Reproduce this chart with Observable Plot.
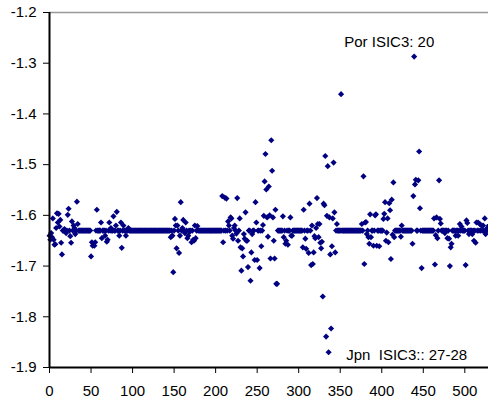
<!DOCTYPE html>
<html><head><meta charset="utf-8">
<script src="https://cdn.jsdelivr.net/npm/d3@7"></script>
<script src="https://cdn.jsdelivr.net/npm/@observablehq/plot@0.6"></script>
<style>
body{margin:0;background:#fff}
svg text{white-space:pre}
</style>
</head><body><div id="chart"></div>
<script>
// y value for each observation (x = observation number 0..529)
const values = [
-1.64,-1.648,-1.635,-1.643,-1.606,-1.648,-1.658,-1.657,-1.625,-1.596,
-1.614,-1.597,-1.622,-1.609,-1.654,-1.677,-1.63,-1.63,-1.627,-1.63,
-1.635,-1.63,-1.599,-1.587,-1.63,-1.641,-1.654,-1.612,-1.63,-1.62,
-1.625,-1.637,-1.63,-1.573,-1.617,-1.63,-1.63,-1.63,-1.63,-1.63,
-1.63,-1.63,-1.63,-1.63,-1.63,-1.63,-1.63,-1.63,-1.63,-1.63,
-1.681,-1.653,-1.66,-1.656,-1.66,-1.653,-1.63,-1.589,-1.63,-1.63,
-1.63,-1.63,-1.614,-1.645,-1.63,-1.63,-1.63,-1.64,-1.63,-1.652,
-1.648,-1.63,-1.614,-1.63,-1.625,-1.63,-1.63,-1.602,-1.63,-1.63,
-1.62,-1.593,-1.63,-1.63,-1.64,-1.63,-1.614,-1.664,-1.63,-1.62,
-1.63,-1.63,-1.64,-1.63,-1.63,-1.625,-1.63,-1.63,-1.63,-1.63,
-1.63,-1.63,-1.63,-1.63,-1.63,-1.63,-1.63,-1.63,-1.63,-1.63,
-1.63,-1.63,-1.63,-1.63,-1.63,-1.63,-1.63,-1.63,-1.63,-1.63,
-1.63,-1.63,-1.63,-1.63,-1.63,-1.63,-1.63,-1.63,-1.63,-1.63,
-1.63,-1.63,-1.63,-1.63,-1.63,-1.63,-1.63,-1.63,-1.63,-1.63,
-1.63,-1.63,-1.63,-1.63,-1.63,-1.63,-1.643,-1.63,-1.64,-1.712,
-1.63,-1.607,-1.62,-1.665,-1.62,-1.63,-1.674,-1.64,-1.574,-1.63,
-1.625,-1.609,-1.63,-1.635,-1.614,-1.63,-1.645,-1.64,-1.63,-1.632,
-1.63,-1.653,-1.63,-1.648,-1.65,-1.62,-1.645,-1.63,-1.621,-1.63,
-1.63,-1.63,-1.63,-1.63,-1.63,-1.63,-1.63,-1.63,-1.63,-1.63,
-1.63,-1.63,-1.63,-1.63,-1.63,-1.63,-1.63,-1.63,-1.63,-1.63,
-1.63,-1.63,-1.63,-1.63,-1.63,-1.63,-1.63,-1.63,-1.562,-1.653,
-1.63,-1.565,-1.63,-1.567,-1.63,-1.612,-1.62,-1.63,-1.604,-1.606,
-1.64,-1.646,-1.625,-1.62,-1.63,-1.636,-1.566,-1.65,-1.63,-1.606,
-1.663,-1.709,-1.665,-1.681,-1.637,-1.646,-1.594,-1.65,-1.65,-1.702,
-1.63,-1.63,-1.729,-1.673,-1.637,-1.63,-1.63,-1.688,-1.574,-1.614,
-1.688,-1.63,-1.63,-1.704,-1.63,-1.661,-1.63,-1.619,-1.601,-1.533,
-1.479,-1.549,-1.604,-1.642,-1.543,-1.6,-1.685,-1.452,-1.512,-1.604,
-1.65,-1.685,-1.589,-1.735,-1.735,-1.63,-1.63,-1.63,-1.63,-1.63,
-1.63,-1.602,-1.643,-1.63,-1.656,-1.65,-1.63,-1.658,-1.63,-1.63,
-1.604,-1.64,-1.64,-1.63,-1.63,-1.63,-1.63,-1.63,-1.63,-1.63,
-1.63,-1.63,-1.63,-1.63,-1.63,-1.663,-1.589,-1.63,-1.646,-1.666,
-1.63,-1.63,-1.674,-1.577,-1.63,-1.698,-1.62,-1.696,-1.673,-1.641,
-1.645,-1.625,-1.566,-1.617,-1.643,-1.617,-1.654,-1.665,-1.652,-1.76,
-1.577,-1.58,-1.483,-1.839,-1.601,-1.503,-1.87,-1.604,-1.677,-1.823,
-1.661,-1.606,-1.496,-1.594,-1.673,-1.63,-1.617,-1.63,-1.63,-1.63,
-1.63,-1.361,-1.63,-1.63,-1.63,-1.63,-1.63,-1.63,-1.63,-1.63,
-1.63,-1.63,-1.63,-1.63,-1.63,-1.63,-1.63,-1.63,-1.63,-1.63,
-1.63,-1.63,-1.63,-1.63,-1.63,-1.63,-1.617,-1.63,-1.523,-1.696,
-1.614,-1.613,-1.637,-1.63,-1.643,-1.656,-1.598,-1.643,-1.63,-1.63,
-1.66,-1.63,-1.6,-1.598,-1.66,-1.63,-1.63,-1.661,-1.63,-1.63,
-1.63,-1.63,-1.607,-1.597,-1.574,-1.65,-1.634,-1.606,-1.653,-1.576,
-1.59,-1.686,-1.569,-1.638,-1.535,-1.643,-1.63,-1.63,-1.63,-1.63,
-1.63,-1.63,-1.63,-1.642,-1.62,-1.63,-1.63,-1.63,-1.63,-1.63,
-1.63,-1.63,-1.63,-1.63,-1.63,-1.63,-1.63,-1.656,-1.562,-1.287,
-1.539,-1.53,-1.63,-1.63,-1.531,-1.474,-1.586,-1.63,-1.704,-1.63,
-1.63,-1.63,-1.63,-1.63,-1.63,-1.63,-1.63,-1.63,-1.63,-1.63,
-1.63,-1.63,-1.63,-1.606,-1.697,-1.639,-1.604,-1.645,-1.63,-1.531,
-1.607,-1.616,-1.63,-1.63,-1.63,-1.63,-1.635,-1.63,-1.63,-1.645,
-1.63,-1.646,-1.7,-1.663,-1.656,-1.63,-1.63,-1.63,-1.63,-1.64,
-1.63,-1.63,-1.64,-1.63,-1.617,-1.63,-1.622,-1.63,-1.63,-1.63,
-1.63,-1.698,-1.61,-1.615,-1.63,-1.637,-1.63,-1.63,-1.63,-1.637,
-1.63,-1.65,-1.63,-1.654,-1.614,-1.63,-1.614,-1.63,-1.617,-1.63,
-1.62,-1.63,-1.62,-1.63,-1.606,-1.637,-1.63,-1.625,-1.63,-1.62
];
const xTicks = [0, 50, 100, 150, 200, 250, 300, 350, 400, 450, 500];
const yTicks = [-1.9, -1.8, -1.7, -1.6, -1.5, -1.4, -1.3, -1.2];
const noteText = ["Por ISIC3: 20", "Jpn  ISIC3:: 27-28"];

const diamond = {
  draw(ctx, size) {
    const h = Math.sqrt(size / 2);
    ctx.moveTo(0, -h); ctx.lineTo(h, 0); ctx.lineTo(0, h); ctx.lineTo(-h, 0); ctx.closePath();
  }
};

const chart = Plot.plot({
  width: 488, height: 404,
  marginLeft: 49, marginRight: 0, marginTop: 12, marginBottom: 37,
  style: {fontFamily: "'Liberation Sans', Arial, sans-serif", fontSize: "15px", color: "#000", background: "#fff"},
  x: {domain: [0, 528.5], ticks: xTicks, tickSize: 6, tickPadding: 12, tickFormat: d => String(d), label: null},
  y: {domain: [-1.9, -1.2], ticks: yTicks, tickSize: 6, tickPadding: 7, tickFormat: d => d.toFixed(1), label: null},
  marks: [
    Plot.ruleY([-1.2], {stroke: "#999", strokeWidth: 1.5}),
    Plot.dot(values, {x: (d, i) => i, y: d => d, symbol: diamond, r: 2.45, fill: "#000080", stroke: "none"}),
    Plot.ruleX([0], {stroke: "#000", strokeWidth: 2}),
    Plot.ruleY([-1.9], {stroke: "#000", strokeWidth: 2}),
    Plot.text(noteText, {x: [409, 430], y: [-1.2584, -1.8757], text: d => d, fill: "#000", fontSize: 15})
  ]
});
document.getElementById("chart").appendChild(chart);
</script>
</body></html>
